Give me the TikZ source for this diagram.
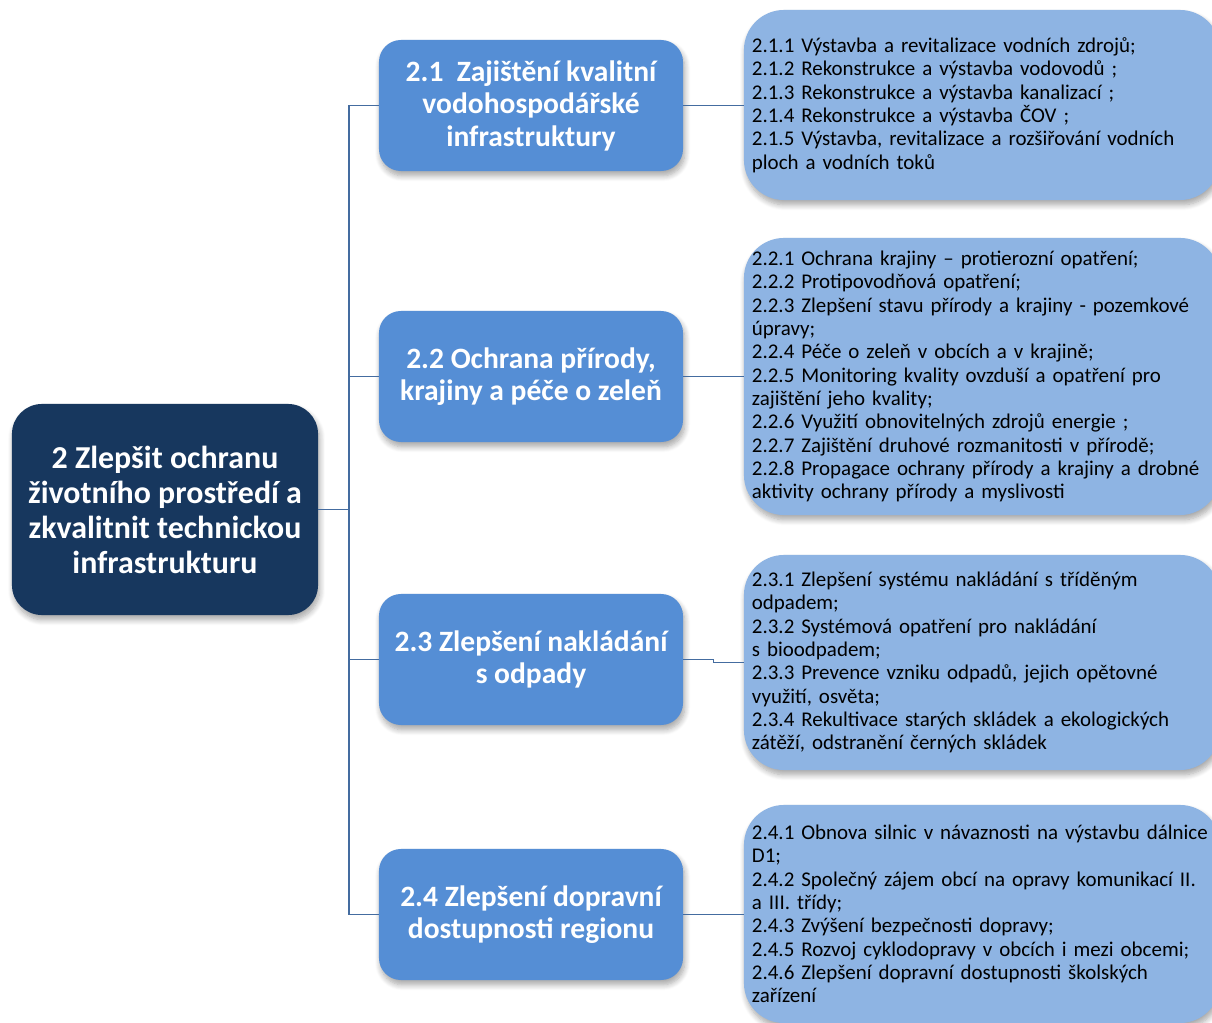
\documentclass[tikz,border=0pt]{standalone}
\usepackage{fontspec}
\setmainfont{Carlito}
\usepackage{tikz}
\usetikzlibrary{shadows.blur}
\definecolor{rootblue}{RGB}{23,55,94}
\definecolor{subblue}{RGB}{85,142,213}
\definecolor{itemblue}{RGB}{142,180,227}
\definecolor{linkblue}{RGB}{68,108,160}

\begin{document}
\begin{tikzpicture}[x=0.025cm,y=-0.025cm,
  boxshadow/.style={blur shadow={shadow xshift=0.4mm,shadow yshift=-1.2mm,
      shadow blur steps=8,shadow blur radius=1.4mm,shadow opacity=35}},
  rootbox/.style={rounded corners=0.75cm,fill=rootblue,text=white,align=center,
      font=\bfseries\fontsize{22.7}{24.9}\selectfont,
      minimum width=7.65cm,minimum height=5.275cm,boxshadow},
  subbox/.style={rounded corners=0.55cm,fill=subblue,text=white,align=center,
      font=\bfseries\fontsize{21}{23.1}\selectfont,
      minimum width=7.6cm,minimum height=3.275cm,boxshadow},
  itembox/.style={rounded corners=1cm,fill=itemblue,text=black,align=left,
      font=\fontsize{14.9}{16.6}\selectfont,
      text width=11.5cm,inner xsep=0.2cm,boxshadow},
  link/.style={draw=linkblue,line width=0.9pt}]
  \useasboundingbox (0,0) rectangle (1212,1023);

  % goal
  \node[rootbox] (goal) at (165,509.5)
    {2 Zlepšit ochranu\\životního prostředí a\\zkvalitnit technickou\\infrastrukturu};

  % sub-goals
  \node[subbox] (s1) at (531,105.5) {2.1~ Zajištění kvalitní\\vodohospodářské\\infrastruktury};
  \node[subbox] (s2) at (531,376.5) {2.2 Ochrana přírody,\\krajiny a péče o zeleň};
  \node[subbox] (s3) at (531,659.5) {2.3 Zlepšení nakládání\\s odpady};
  \node[subbox] (s4) at (531,914.5) {2.4 Zlepšení dopravní\\dostupnosti regionu};

  % measures
  \node[itembox,minimum height=4.75cm] (m1) at (982,105)
    {2.1.1 Výstavba a revitalizace vodních zdrojů;\\
     2.1.2 Rekonstrukce a výstavba vodovodů ;\\
     2.1.3 Rekonstrukce a výstavba kanalizací ;\\
     2.1.4 Rekonstrukce a výstavba ČOV ;\\
     2.1.5 Výstavba, revitalizace a rozšiřování vodních\\
     ploch a vodních toků};
  \node[itembox,minimum height=6.925cm] (m2) at (982,376.5)
    {2.2.1 Ochrana krajiny – protierozní opatření;\\
     2.2.2 Protipovodňová opatření;\\
     2.2.3 Zlepšení stavu přírody a krajiny - pozemkové\\
     úpravy;\\
     2.2.4 Péče o zeleň v obcích a v krajině;\\
     2.2.5 Monitoring kvality ovzduší a opatření pro\\
     zajištění jeho kvality;\\
     2.2.6 Využití obnovitelných zdrojů energie ;\\
     2.2.7 Zajištění druhové rozmanitosti v přírodě;\\
     2.2.8 Propagace ochrany přírody a krajiny a drobné\\
     aktivity ochrany přírody a myslivosti};
  \node[itembox,minimum height=5.375cm] (m3) at (982,662.5)
    {2.3.1 Zlepšení systému nakládání s tříděným\\
     odpadem;\\
     2.3.2 Systémová opatření pro nakládání\\
     s bioodpadem;\\
     2.3.3 Prevence vzniku odpadů, jejich opětovné\\
     využití, osvěta;\\
     2.3.4 Rekultivace starých skládek a ekologických\\
     zátěží, odstranění černých skládek};
  \node[itembox,minimum height=5.45cm] (m4) at (982,914)
    {2.4.1 Obnova silnic v návaznosti na výstavbu dálnice\\
     D1;\\
     2.4.2 Společný zájem obcí na opravy komunikací II.\\
     a III. třídy;\\
     2.4.3 Zvýšení bezpečnosti dopravy;\\
     2.4.5 Rozvoj cyklodopravy v obcích i mezi obcemi;\\
     2.4.6 Zlepšení dopravní dostupnosti školských\\
     zařízení};

  % connectors
  \coordinate (trunk) at (349,509.5);
  \draw[link] (goal.east) -- (trunk);
  \foreach \s in {s1,s2,s3,s4}
    \draw[link] (trunk) |- (\s.west);
  \draw[link] (s1.east) -- (s1.east -| m1.west);
  \draw[link] (s2.east) -- (s2.east -| m2.west);
  \draw[link] (s3.east) -- ++(30,0) |- (m3.west);
  \draw[link] (s4.east) -- (s4.east -| m4.west);
\end{tikzpicture}
\end{document}
